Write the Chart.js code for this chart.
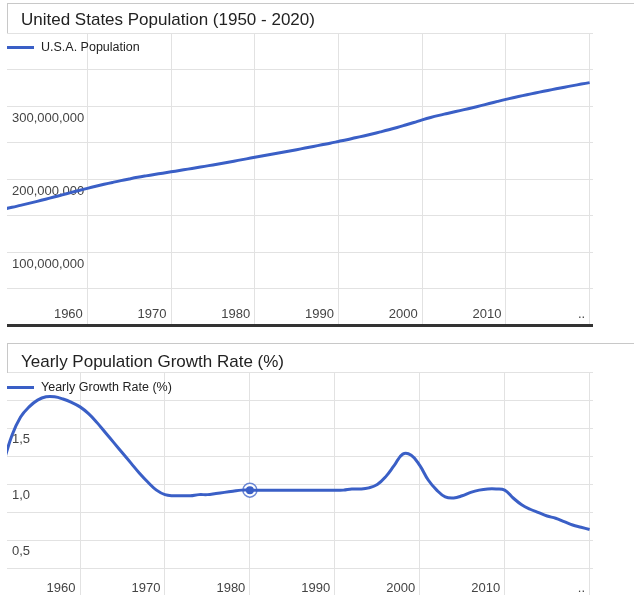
<!DOCTYPE html>
<html>
<head>
<meta charset="utf-8">
<title>United States Population (1950 - 2020)</title>
<script src="https://cdn.jsdelivr.net/npm/chart.js@4.4.1/dist/chart.umd.min.js"></script>
<style>
  html, body { margin: 0; padding: 0; overflow: hidden; background: #fff; }
  body { width: 634px; height: 595px; position: relative; font-family: "Liberation Sans", Arial, sans-serif; }
  .panel { position: absolute; left: 0; width: 634px; }
  .panel canvas { position: absolute; left: 0; top: 0; }
  .title {
    position: absolute; left: 7px; top: 3px; width: 627px; height: 30px;
    box-sizing: border-box; border-top: 1px solid #c8c8c8; border-left: 1px solid #c8c8c8;
    padding-left: 13px; font-size: 17px; line-height: 29px; color: #222; white-space: nowrap;
  }
  .legend { position: absolute; left: 7px; top: 40px; height: 14px; font-size: 12.5px; color: #222; display: flex; align-items: center; white-space: nowrap; }
  .legend i { display: inline-block; width: 27px; height: 3px; background: #3a5fc6; margin-right: 7px; }
</style>
</head>
<body>

<div class="panel" style="top:0; height:340px;">
  <canvas id="popChart" width="634" height="340"></canvas>
  <div class="title" style="padding-top:1px;">United States Population (1950 - 2020)</div>
  <div class="legend"><i></i>U.S.A. Population</div>
</div>

<div class="panel" style="top:340px; height:260px;">
  <canvas id="growthChart" width="634" height="260"></canvas>
  <div class="title" style="padding-top:3px;">Yearly Population Growth Rate (%)</div>
  <div class="legend"><i></i>Yearly Growth Rate (%)</div>
</div>

<script>
// years shown in the population chart
const years = [
  1950, 1951, 1952, 1953, 1954, 1955, 1956, 1957, 1958, 1959,
  1960, 1961, 1962, 1963, 1964, 1965, 1966, 1967, 1968, 1969,
  1970, 1971, 1972, 1973, 1974, 1975, 1976, 1977, 1978, 1979,
  1980, 1981, 1982, 1983, 1984, 1985, 1986, 1987, 1988, 1989,
  1990, 1991, 1992, 1993, 1994, 1995, 1996, 1997, 1998, 1999,
  2000, 2001, 2002, 2003, 2004, 2005, 2006, 2007, 2008, 2009,
  2010, 2011, 2012, 2013, 2014, 2015, 2016, 2017, 2018, 2019,
  2020
];

// population in millions
const population = [
  158.8, 161.2, 163.9, 166.6, 169.4, 172.3, 175.3, 178.3, 181.3, 184.3,
  187.2, 190.0, 192.7, 195.3, 197.8, 200.1, 202.3, 204.3, 206.2, 208.0,
  209.8, 211.6, 213.5, 215.4, 217.3, 219.3, 221.3, 223.4, 225.5, 227.6,
  229.7, 231.8, 233.9, 236.0, 238.1, 240.2, 242.4, 244.6, 246.8, 249.0,
  251.4, 253.8, 256.4, 259.0, 261.7, 264.5, 267.4, 270.5, 273.9, 277.4,
  281.0, 284.3, 287.2, 289.8, 292.4, 295.0, 297.7, 300.5, 303.4, 306.3,
  309.1, 311.7, 314.2, 316.6, 319.0, 321.3, 323.6, 325.8, 327.9, 330.0,
  332.0
];

// growth rate starts one year later (1951)
const growthYears = years.slice(1);
const growthRate = [
        1.20, 1.44, 1.60, 1.69, 1.75, 1.78, 1.78, 1.76, 1.73,
  1.69, 1.63, 1.55, 1.46, 1.37, 1.28, 1.19, 1.10, 1.02, 0.95,
  0.91, 0.90, 0.90, 0.90, 0.91, 0.91, 0.92, 0.93, 0.94, 0.95,
  0.95, 0.95, 0.95, 0.95, 0.95, 0.95, 0.95, 0.95, 0.95, 0.95,
  0.95, 0.95, 0.96, 0.96, 0.97, 1.00, 1.07, 1.17, 1.27, 1.26,
  1.17, 1.04, 0.95, 0.89, 0.88, 0.90, 0.93, 0.95, 0.96, 0.96,
  0.95, 0.88, 0.82, 0.78, 0.75, 0.72, 0.70, 0.67, 0.64, 0.62,
  0.60
];

const decadeTicks = [1960, 1970, 1980, 1990, 2000, 2010, 2020];
// last label is the truncated "2020" shown as dots near the right edge
const xTickLabels = ['1960', '1970', '1980', '1990', '2000', '2010', '\u2007\u2007\u2007..'];
const popLabelValues = [100, 200, 300];      // millions
const growthLabelValues = [0.5, 1.0, 1.5];
const highlightYear = 1980;

const lineColor = '#3a5fc6';
const gridColor = '#e2e2e2';
const tickColor = '#444';

Chart.defaults.font.family = '"Liberation Sans", Arial, sans-serif';

function baseOptions(o) {
    return {
        responsive: false,
        animation: false,
        events: [],
        layout: {
            autoPadding: false,
            padding: { top: o.top, left: 7, right: 41, bottom: o.bottom }
        },
        plugins: {
            legend: { display: false },
            tooltip: { enabled: false }
        },
        scales: {
            x: {
                type: 'linear',
                min: o.xMin,
                max: o.xMax,
                afterBuildTicks: s => { s.ticks = decadeTicks.map(v => ({ value: v })); },
                afterFit: s => { s.height = 0; s.paddingLeft = 0; s.paddingRight = 0; },
                grid: { color: gridColor, drawTicks: false },
                border: { display: false },
                ticks: {
                    autoSkip: false,
                    maxRotation: 0,
                    mirror: true,      // labels sit inside the plot, above the baseline
                    padding: o.xPad,
                    labelOffset: -19,
                    color: tickColor,
                    font: { size: 13 },
                    callback: (v, i) => xTickLabels[i]
                }
            },
            y: {
                min: 0,
                max: o.yMax,
                afterFit: s => { s.width = 0; s.paddingTop = 0; s.paddingBottom = 0; },
                grid: {
                    drawTicks: false,
                    color: c => c.tick.value === 0 ? '#333' : gridColor,
                    lineWidth: c => c.tick.value === 0 ? 3 : 1
                },
                border: { display: false },
                ticks: {
                    stepSize: o.step,
                    mirror: true,
                    padding: 5,
                    labelOffset: o.yLabelOffset,
                    color: tickColor,
                    font: { size: 13 },
                    callback: o.yLabel
                }
            }
        }
    };
}

// Population chart
new Chart(document.getElementById('popChart'), {
    type: 'line',
    data: {
        datasets: [{
            label: 'U.S.A. Population',
            data: years.map((y, i) => ({ x: y, y: population[i] })),
            borderColor: lineColor,
            borderWidth: 3,
            pointRadius: 0,
            tension: 0.4
        }]
    },
    options: baseOptions({
        top: 33, bottom: 15,
        xMin: 1950.4, xMax: 2020.4, xPad: 3,
        yMax: 400, step: 50, yLabelOffset: 12,
        yLabel: v => popLabelValues.includes(v) ? (v * 1000000).toLocaleString('en-US') : ''
    })
});

// Growth rate chart
const hiIndex = growthYears.indexOf(highlightYear);
new Chart(document.getElementById('growthChart'), {
    type: 'line',
    data: {
        datasets: [{
            label: 'Yearly Growth Rate (%)',
            data: growthYears.map((y, i) => ({ x: y, y: growthRate[i] })),
            borderColor: lineColor,
            backgroundColor: lineColor,
            borderWidth: 3,
            pointRadius: c => c.dataIndex === hiIndex ? 4 : 0,
            pointBorderWidth: 0,
            tension: 0.4
        }, {
            label: 'selected',
            data: [{ x: highlightYear, y: growthRate[hiIndex] }],
            showLine: false,
            pointRadius: 7,
            pointBorderWidth: 1.5,
            pointBorderColor: 'rgba(58, 95, 198, 0.75)',
            pointBackgroundColor: '#fff'
        }]
    },
    options: baseOptions({
        top: 32, bottom: 3,
        xMin: 1951.4, xMax: 2020.4, xPad: 1,
        yMax: 2, step: 0.25, yLabelOffset: 11,
        yLabel: v => growthLabelValues.includes(v) ? v.toFixed(1).replace('.', ',') : ''
    })
});
</script>
</body>
</html>
